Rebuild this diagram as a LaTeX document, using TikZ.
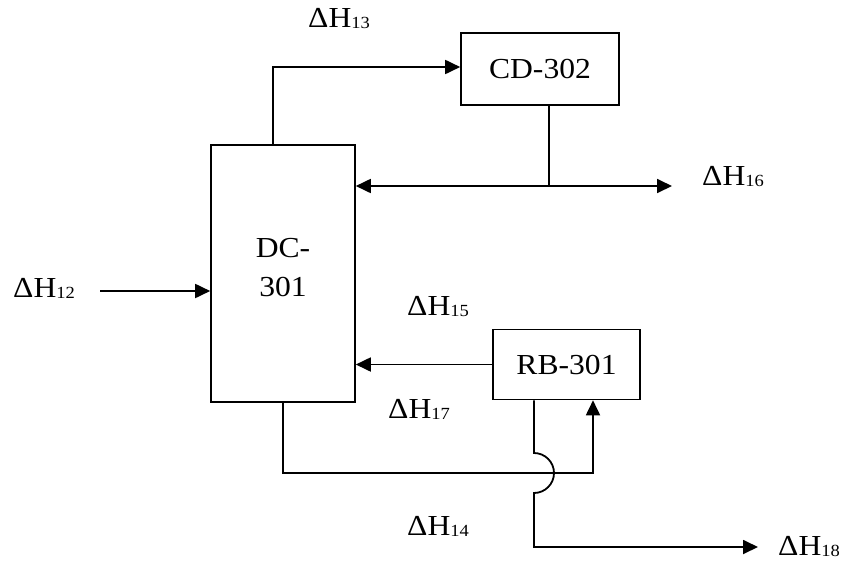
\documentclass[tikz,border=0pt]{standalone}
\usepackage{fontspec}
\setmainfont[FakeStretch=1.09]{Liberation Serif}
\usetikzlibrary{arrows.meta}
\newcommand{\dH}[1]{ΔH{\fontsize{17}{17}\selectfont\raisebox{-1.5pt}{#1}}}
\begin{document}
\begin{tikzpicture}[x=1pt,y=-1pt,
  box/.style={draw,line width=1.6pt,inner sep=0pt},
  lbl/.style={font=\fontsize{29}{39}\selectfont,inner sep=0pt},
  hl/.style={lbl,anchor=base west},
  ln/.style={line width=1.8pt},
  arr/.style={ln,-{Triangle[length=15pt,width=14pt]}},
  arrb/.style={ln,{Triangle[length=15pt,width=14pt]}-{Triangle[length=15pt,width=14pt]}}]
\useasboundingbox (0,0) rectangle (846,560);
% boxes
\node[box,minimum width=144pt,minimum height=257pt] (dc) at (283,273.5) {};
\node[lbl,align=center] (dct) at (283,268) {DC-\\301};
\node[box,minimum width=158pt,minimum height=72pt,lbl] (cd) at (540,69) {CD-302};
\node[box,minimum width=147pt,minimum height=70pt,lbl] (rb) at (566.5,364.5) {RB-301};
% labels
\node[hl] (h13) at (308,27) {\dH{13}};
\node[hl] (h16) at (702,185) {\dH{16}};
\node[hl] (h12) at (13,297) {\dH{12}};
\node[hl] (h15) at (407,315) {\dH{15}};
\node[hl] (h17) at (388,418) {\dH{17}};
\node[hl] (h14) at (407,535) {\dH{14}};
\node[hl] (h18) at (778,555) {\dH{18}};
% coordinates
\coordinate (j16) at (549,186);
\coordinate (e16) at (672,186);
\coordinate (s12) at (100,291);
\coordinate (c1) at (593,473);
\coordinate (k1) at (534,453);
\coordinate (k2) at (534,493);
\coordinate (c2) at (534,547);
\coordinate (e18) at (758,547);
% connectors
\draw[arr] ([xshift=-10pt]dc.north) |- ([yshift=2pt]cd.west);
\draw[ln] ([xshift=9pt]cd.south) -- (j16);
\draw[arrb] (dc.east |- j16) -- (e16);
\draw[arr] (s12) -- (dc.west |- s12);
\draw[arr] (rb.west) -- (dc.east |- rb.west);
\draw[arr] (dc.south) |- (c1) -- (c1 |- rb.south);
\draw[arr] (k1 |- rb.south) -- (k1) .. controls (545,453) and (554,462) .. (554,473)
  .. controls (554,484) and (545,493) .. (k2) -- (c2) -- (e18);
\end{tikzpicture}
\end{document}
